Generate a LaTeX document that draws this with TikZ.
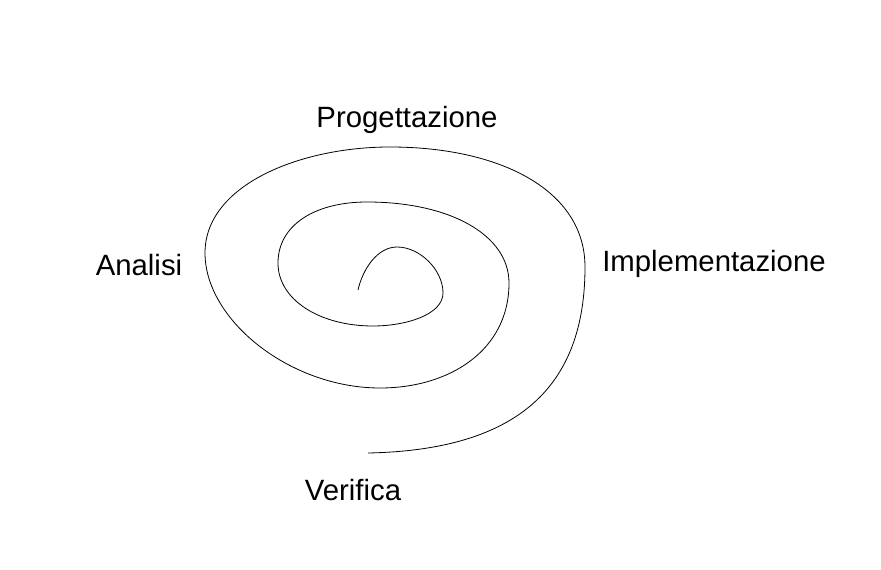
\documentclass[tikz,border=0pt]{standalone}
\usepackage{fontspec}
\setmainfont{Liberation Sans}
\tikzset{every picture/.style={line width=0.75pt}}
\tikzset{phase/.style={inner sep=0.75pt, font=\fontsize{22}{26}\selectfont}}

\begin{document}
\begin{tikzpicture}[x=0.75pt,y=0.75pt,yscale=-1,xscale=1]
\useasboundingbox (0,0) rectangle (881,570);

%Curve Lines [spiral]
\draw [line width=0.6pt]  (358,290) .. controls (363,268) and (378,247) .. (397,247) .. controls (420,247) and (443,270) .. (443,293) .. controls (443,315) and (405,326) .. (373,326) .. controls (320,326) and (278,300) .. (278,263) .. controls (278,225) and (315,202) .. (367,202) .. controls (450,202) and (509,235) .. (509,283) .. controls (509,350) and (450,388) .. (380,388) .. controls (290,388) and (205,320) .. (205,253) .. controls (205,185) and (300,147) .. (390,147) .. controls (500,147) and (585,190) .. (585,267) .. controls (585,385) and (520,450) .. (368,453) ;

% Text Node
\node [phase] (prog) at (407,120) {Progettazione};
% Text Node
\node [phase] (anal) at (139,265) {Analisi};
% Text Node
\node [phase] (impl) at (714,264) {Implementazione};
% Text Node
\node [phase] (verif) at (353,490) {Verifica};

\end{tikzpicture}
\end{document}
